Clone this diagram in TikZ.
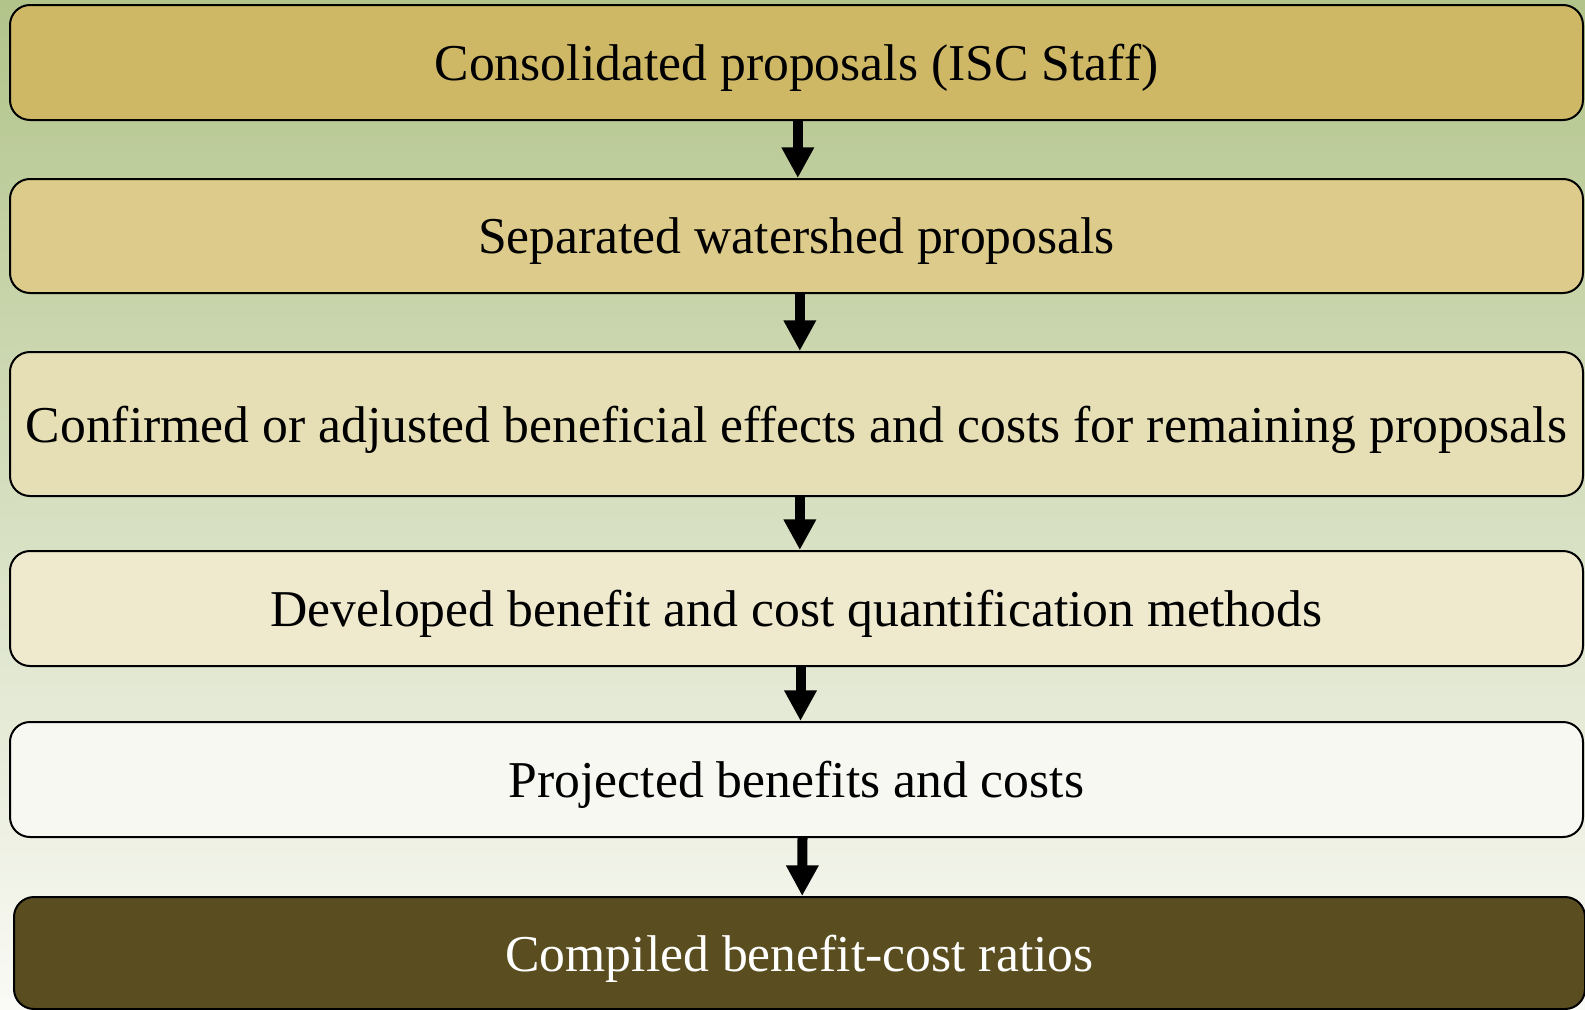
\documentclass[tikz,border=0pt]{standalone}
\usepackage{fontspec}
\setmainfont{Liberation Serif}
\usetikzlibrary{arrows.meta, positioning}
\definecolor{bgtop}{RGB}{178,196,138}
\definecolor{bgbottom}{RGB}{250,250,246}
\definecolor{stepone}{RGB}{206,184,102}
\definecolor{steptwo}{RGB}{220,203,138}
\definecolor{stepthree}{RGB}{230,222,180}
\definecolor{stepfour}{RGB}{239,233,205}
\definecolor{stepfive}{RGB}{248,248,242}
\definecolor{stepsix}{RGB}{90,78,32}

\begin{document}
\begin{tikzpicture}[
  x=0.75pt, y=-0.75pt,
  font=\fontsize{38.75}{46}\selectfont,
  stagebox/.style={draw=black, line width=1.5pt, rounded corners=15pt, align=center,
                   inner sep=2pt, text depth=0pt, minimum width=1179.75pt, minimum height=86.25pt},
  flow/.style={-{Triangle[length=23pt, width=23pt]}, line width=7.5pt, black}
]
% background
\shade[top color=bgtop, bottom color=bgbottom] (0,0) rectangle (1585,1010);
\useasboundingbox (0,0) rectangle (1585,1010);

\node[stagebox, fill=stepone] (consol) at (796.5,62.5) {Consolidated proposals (ISC Staff)};
\node[stagebox, fill=steptwo, minimum height=85.5pt] (separ) at (796.5,236) {Separated watershed proposals};
\node[stagebox, fill=stepthree, minimum height=108pt] (confirm) at (796.5,424) {Confirmed or adjusted beneficial effects and costs for remaining proposals};
\node[stagebox, fill=stepfour] (method) at (796.5,608.5) {Developed benefit and cost quantification methods};
\node[stagebox, fill=stepfive] (project) at (796.5,779.5) {Projected benefits and costs};
\node[stagebox, fill=stepsix, text=white, minimum width=1178.25pt, minimum height=84pt] (ratio) at (799.5,953) {Compiled benefit-cost ratios};

\draw[flow] ([xshift=1pt]consol.south) -- ([xshift=1pt]separ.north);
\draw[flow] ([xshift=2.5pt]separ.south) -- ([xshift=2.5pt]confirm.north);
\draw[flow] ([xshift=2.5pt]confirm.south) -- ([xshift=2.5pt]method.north);
\draw[flow] ([xshift=3pt]method.south) -- ([xshift=3pt]project.north);
\draw[flow] ([xshift=4.5pt]project.south) -- ([xshift=2pt]ratio.north);
\end{tikzpicture}
\end{document}
